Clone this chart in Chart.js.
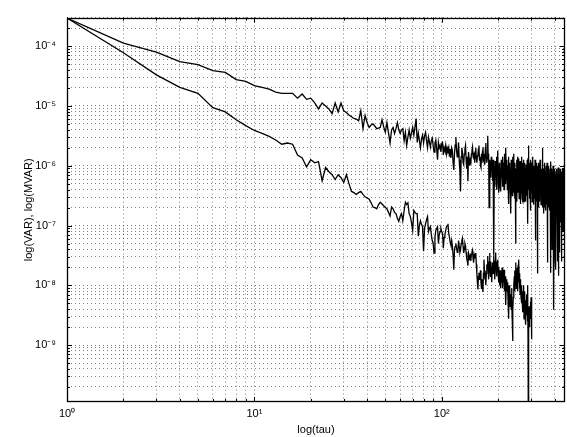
<!DOCTYPE html>
<html>
<head>
<meta charset="utf-8">
<script src="https://cdn.jsdelivr.net/npm/chart.js@4.4.0/dist/chart.umd.min.js"></script>
<style>
  html, body { margin: 0; padding: 0; background: #fff; }
  canvas { display: block; }
</style>
</head>
<body>
<canvas id="myChart" width="567" height="437"></canvas>
<script>
// values are log10 of the variance, one per tau = 1, 2, 3 ...
var varLog = [
  -3.53,-3.95,-4.10,-4.26,-4.31,-4.41,-4.44,-4.56,-4.59,-4.66,
  -4.69,-4.72,-4.77,-4.79,-4.79,-4.79,-4.87,-4.80,-4.89,-4.87,
  -4.95,-5.05,-4.95,-5.00,-5.05,-5.13,-4.95,-5.10,-4.95,-5.08,
  -5.11,-5.15,-5.18,-5.21,-5.22,-5.25,-5.08,-5.38,-5.16,-5.28,
  -5.36,-5.32,-5.30,-5.34,-5.38,-5.37,-5.36,-5.23,-5.35,-5.44,
  -5.28,-5.45,-5.62,-5.40,-5.36,-5.46,-5.38,-5.28,-5.40,-5.46,
  -5.40,-5.38,-5.58,-5.44,-5.66,-5.52,-5.40,-5.54,-5.45,-5.36,
  -5.49,-5.35,-5.21,-5.61,-5.46,-5.58,-5.70,-5.55,-5.49,-5.62,
  -5.50,-5.44,-5.58,-5.70,-5.52,-5.60,-5.69,-5.58,-5.54,-5.66,
  -5.77,-5.62,-5.57,-5.72,-5.90,-5.61,-5.70,-5.66,-5.77,-5.63,
  -5.61,-5.82,-5.70,-5.75,-5.66,-5.80,-5.70,-5.74,-5.69,-5.85,
  -5.72,-5.87,-5.70,-5.74,-5.95,-6.07,-5.80,-5.65,-5.52,-5.75,
  -5.85,-5.77,-5.61,-5.90,-6.10,-6.43,-5.85,-5.70,-5.77,-5.95,
  -5.98,-5.80,-5.72,-5.66,-5.90,-6.05,-5.85,-6.26,-5.77,-5.88,
  -6.00,-5.92,-5.98,-5.80,-5.75,-5.69,-5.85,-5.87,-5.78,-5.95,
  -5.76,-5.70,-5.88,-5.95,-5.84,-5.82,-5.72,-5.66,-5.90,-5.85,
  -6.00,-6.03,-5.80,-5.95,-5.75,-5.69,-5.90,-5.93,-5.80,-5.98,
  -5.70,-5.62,-5.85,-5.95,-5.88,-5.50,-5.85,-5.80,-6.70,-5.95,
  -5.90,-6.15,-6.20,-5.85,-6.05,-5.95,-6.25,-5.90,-6.30,-7.50,
  -6.00,-6.35,-5.92,-6.20,-6.05,-6.40,-5.85,-6.15,-5.75,-6.30,
  -6.00,-6.45,-5.95,-6.25,-6.36,-6.05,-6.43,-5.90,-6.20,-6.00,
  -6.35,-5.85,-6.15,-5.95,-6.40,-6.05,-5.80,-6.30,-5.75,-5.70,
  -6.10,-6.25,-5.90,-6.40,-6.00,-6.20,-5.85,-6.64,-6.05,-6.30,
  -5.95,-6.40,-6.10,-6.80,-5.90,-6.25,-6.05,-6.50,-5.85,-6.30,
  -6.00,-5.80,-6.45,-6.10,-6.55,-5.95,-6.35,-7.30,-6.05,-6.40,
  -5.90,-6.60,-6.15,-5.85,-6.45,-6.10,-6.35,-5.88,-6.55,-6.05,
  -6.30,-5.92,-6.50,-6.64,-6.00,-6.40,-5.85,-6.25,-6.55,-5.95,
  -6.58,-6.10,-6.40,-5.90,-6.60,-6.20,-5.95,-6.45,-6.05,-6.35,
  -6.60,-5.98,-6.30,-6.05,-6.50,-5.90,-6.25,-6.97,-5.87,-6.20,
  -5.66,-6.40,-6.00,-6.55,-5.95,-6.35,-6.10,-6.75,-5.90,-6.30,
  -6.15,-6.45,-5.95,-6.60,-6.10,-6.35,-5.85,-6.50,-6.20,-6.65,
  -6.00,-6.40,-6.10,-6.55,-5.90,-6.45,-7.25,-6.05,-6.35,-6.60,
  -5.95,-6.50,-6.15,-6.40,-7.80,-6.00,-6.55,-6.20,-6.70,-5.95,
  -6.45,-6.10,-6.60,-6.25,-5.90,-6.50,-6.15,-5.98,-6.65,-6.30,
  -6.05,-6.55,-6.20,-6.70,-6.00,-5.70,-6.45,-6.15,-6.60,-6.80,
  -6.05,-6.40,-6.25,-6.70,-5.95,-6.50,-6.10,-6.60,-6.30,-6.75,
  -6.00,-6.45,-6.20,-6.65,-5.95,-6.55,-6.15,-7.62,-6.05,-6.50,
  -6.25,-6.70,-6.00,-6.45,-6.15,-6.60,-6.35,-6.75,-6.05,-6.50,
  -5.93,-7.79,-6.20,-6.75,-6.05,-6.55,-6.30,-7.40,-6.10,-6.60,
  -6.25,-6.80,-6.00,-6.50,-6.35,-6.90,-8.41,-6.20,-6.55,-6.05,
  -6.70,-6.30,-7.55,-6.15,-6.60,-6.35,-7.74,-6.10,-6.55,-6.25,
  -6.85,-6.05,-6.65,-6.40,-7.50,-6.15,-7.60,-6.03,-6.50,-6.30,
  -7.84,-6.10,-6.60,-6.35,-7.45,-6.20,-6.70,-6.05,-6.55,-6.40,
  -6.95,-6.15,-6.65,-6.30,-7.60,-6.10,-6.55,-6.35,-6.80,-6.05,
  -6.60,-6.25,-6.90,-7.08,-6.10,-6.50,-6.30,-6.75,-6.05,-6.60,
  -6.35,-6.85,-6.15,-6.55,-6.40
];

// modified variance, log10, tau = 1 ... 303 (-12 is the drop to zero)
var mvarLog = [
  -3.53,-4.11,-4.48,-4.69,-4.79,-5.03,-5.10,-5.23,-5.33,-5.41,
  -5.46,-5.51,-5.57,-5.64,-5.62,-5.64,-5.82,-5.87,-6.02,-5.90,
  -5.95,-5.93,-6.25,-6.03,-6.10,-6.15,-6.23,-6.15,-6.20,-6.28,
  -6.15,-6.30,-6.43,-6.45,-6.48,-6.45,-6.43,-6.48,-6.52,-6.54,
  -6.56,-6.62,-6.69,-6.70,-6.72,-6.65,-6.61,-6.64,-6.67,-6.70,
  -6.72,-6.78,-6.84,-6.69,-6.72,-6.78,-6.80,-6.88,-6.93,-6.85,
  -6.80,-6.92,-6.75,-6.61,-6.65,-6.62,-6.80,-6.85,-6.95,-7.08,
  -6.75,-6.78,-6.80,-6.80,-7.18,-7.00,-6.92,-6.98,-7.02,-7.43,
  -7.05,-6.97,-6.90,-6.85,-7.10,-7.05,-7.02,-7.15,-7.25,-7.30,
  -7.46,-7.20,-7.08,-7.05,-7.02,-7.30,-7.15,-7.10,-7.05,-7.10,
  -7.13,-7.38,-7.20,-7.15,-7.08,-7.02,-7.00,-6.97,-7.13,-7.20,
  -7.28,-7.33,-7.25,-7.34,-7.50,-7.74,-7.40,-7.35,-7.30,-7.38,
  -7.45,-7.41,-7.25,-7.35,-7.45,-7.41,-7.30,-7.25,-7.21,-7.35,
  -7.46,-7.40,-7.30,-7.34,-7.45,-7.55,-7.60,-7.67,-7.46,-7.50,
  -7.58,-7.52,-7.59,-7.48,-7.44,-7.41,-7.55,-7.62,-7.50,-7.55,
  -7.48,-7.46,-7.65,-7.80,-7.95,-8.07,-7.85,-7.79,-7.90,-7.85,
  -7.75,-7.95,-8.05,-7.90,-8.00,-8.11,-7.80,-7.57,-7.75,-7.90,
  -7.85,-8.00,-7.80,-7.65,-7.70,-7.51,-7.75,-7.90,-7.60,-7.46,
  -7.70,-7.85,-7.60,-7.75,-7.95,-7.70,-7.62,-7.80,-7.55,-7.50,
  -7.75,-7.90,-7.60,-7.45,-7.70,-7.85,-7.60,-7.75,-7.57,-7.80,
  -7.95,-7.70,-7.85,-8.00,-7.75,-7.90,-8.05,-7.80,-7.95,-7.70,
  -7.85,-8.05,-7.80,-7.95,-7.74,-7.90,-8.10,-7.85,-8.20,-8.33,
  -8.00,-7.90,-8.10,-7.95,-8.07,-8.25,-8.00,-8.56,-8.10,-8.20,
  -8.00,-8.35,-8.15,-8.16,-8.40,-8.05,-8.30,-8.60,-8.93,-8.40,
  -8.20,-8.11,-8.00,-7.85,-8.10,-7.75,-7.95,-7.62,-7.90,-8.05,
  -7.80,-7.95,-7.70,-8.10,-7.85,-7.65,-7.95,-7.57,-7.85,-8.05,
  -7.80,-8.15,-7.90,-7.95,-8.20,-8.00,-8.30,-8.05,-8.25,-8.45,
  -8.39,-8.10,-8.30,-8.00,-8.56,-8.20,-8.40,-8.10,-8.50,-8.25,
  -8.66,-8.30,-8.50,-8.15,-8.45,-8.20,-8.60,-8.00,-8.98,-8.40,
  -12,-8.60,-8.35,-8.70,-8.40,-8.55,-8.30,-8.28,-8.50,-8.20,
  -8.45,-8.90,-8.28
];

var xMin = 1, xMax = 455;
var yMin = 1.12e-10, yMax = 3e-4;
var xDecades = [0, 1, 2];
var xTickLabels = ['10\u2070', '10\u00b9', '10\u00b2'];
var yDecades = [-9, -8, -7, -6, -5, -4];
var yTickLabels = ['10\u207b\u2079', '10\u207b\u2078', '10\u207b\u2077', '10\u207b\u2076', '10\u207b\u2075', '10\u207b\u2074'];
var minorSteps = [1, 2, 3, 4, 5, 6, 7, 8, 9];

var narrow = "'Liberation Sans Narrow', 'Liberation Sans', Arial, sans-serif";
var sans = "'Liberation Sans', Arial, sans-serif";

function toPoints(arr) {
  return arr.map(function (v, i) { return { x: i + 1, y: Math.pow(10, v) }; });
}

function decadeOf(v) {
  var e = Math.log10(v);
  var r = Math.round(e);
  return Math.abs(e - r) < 1e-6 ? r : null;
}

// ticks at 1..9 x 10^n only
function logTicks(scale) {
  var lo = Math.floor(Math.log10(scale.min)), hi = Math.ceil(Math.log10(scale.max));
  var t = [];
  for (var d = lo; d <= hi; d++) {
    minorSteps.forEach(function (m) {
      var v = m * Math.pow(10, d);
      if (v >= scale.min * 0.9999 && v <= scale.max * 1.0001) t.push({ value: v });
    });
  }
  scale.ticks = t;
}

var frame = {
  id: 'frame',
  afterDraw: function (chart) {
    var ctx = chart.ctx, a = chart.chartArea;
    var x = chart.scales.x, y = chart.scales.y;
    ctx.save();
    ctx.strokeStyle = '#000';
    ctx.lineWidth = 1;
    ctx.beginPath();
    y.ticks.forEach(function (t) {
      var py = Math.round(y.getPixelForValue(t.value)) + 0.5;
      var len = decadeOf(t.value) !== null ? 5 : 3;
      ctx.moveTo(a.left, py); ctx.lineTo(a.left + len, py);
      ctx.moveTo(a.right, py); ctx.lineTo(a.right - len, py);
    });
    x.ticks.forEach(function (t) {
      var px = Math.round(x.getPixelForValue(t.value)) + 0.5;
      var len = decadeOf(t.value) !== null ? 5 : 3;
      ctx.moveTo(px, a.bottom); ctx.lineTo(px, a.bottom - len);
      ctx.moveTo(px, a.top); ctx.lineTo(px, a.top + len);
    });
    ctx.stroke();
    ctx.lineWidth = 1.3;
    ctx.strokeRect(Math.round(a.left) + 0.5, Math.round(a.top) + 0.5,
      Math.round(a.right - a.left) - 1, Math.round(a.bottom - a.top) - 1);
    ctx.restore();
  }
};

var gridOpts = { color: 'rgba(0,0,0,0.5)', lineWidth: 1, drawTicks: false };
var borderOpts = { display: false, dash: [1, 3] };

new Chart(document.getElementById('myChart'), {
  type: 'line',
  data: {
    datasets: [
      { label: 'VAR', data: toPoints(varLog), borderColor: '#000', borderWidth: 1.3, pointRadius: 0, tension: 0, fill: false },
      { label: 'MVAR', data: toPoints(mvarLog), borderColor: '#000', borderWidth: 1.3, pointRadius: 0, tension: 0, fill: false }
    ]
  },
  options: {
    responsive: false,
    animation: false,
    events: [],
    layout: { padding: { top: 10, right: 2, left: 0, bottom: 0 } },
    plugins: { legend: { display: false }, tooltip: { enabled: false } },
    scales: {
      x: {
        type: 'logarithmic',
        min: xMin, max: xMax,
        afterBuildTicks: logTicks,
        afterFit: function (s) { s.height = 35; },
        grid: gridOpts,
        border: borderOpts,
        ticks: {
          autoSkip: false, maxRotation: 0, padding: 5, color: '#000',
          font: { family: narrow, size: 11 },
          callback: function (v) {
            var d = decadeOf(v);
            var k = xDecades.indexOf(d);
            return k >= 0 ? xTickLabels[k] : '';
          }
        },
        title: { display: true, text: 'log(tau)', color: '#000', font: { family: narrow, size: 11 }, padding: { top: 0, bottom: 0 } }
      },
      y: {
        type: 'logarithmic',
        min: yMin, max: yMax,
        afterBuildTicks: logTicks,
        afterFit: function (s) { s.width = 67; },
        grid: gridOpts,
        border: borderOpts,
        ticks: {
          autoSkip: false, padding: 11, color: '#000',
          font: { family: narrow, size: 11 },
          callback: function (v) {
            var d = decadeOf(v);
            var k = yDecades.indexOf(d);
            return k >= 0 ? yTickLabels[k] : '';
          }
        },
        title: { display: true, text: 'log(VAR), log(MVAR)', color: '#000', font: { family: sans, size: 11 }, padding: { top: 22, bottom: 0 } }
      }
    }
  },
  plugins: [frame]
});
</script>
</body>
</html>
